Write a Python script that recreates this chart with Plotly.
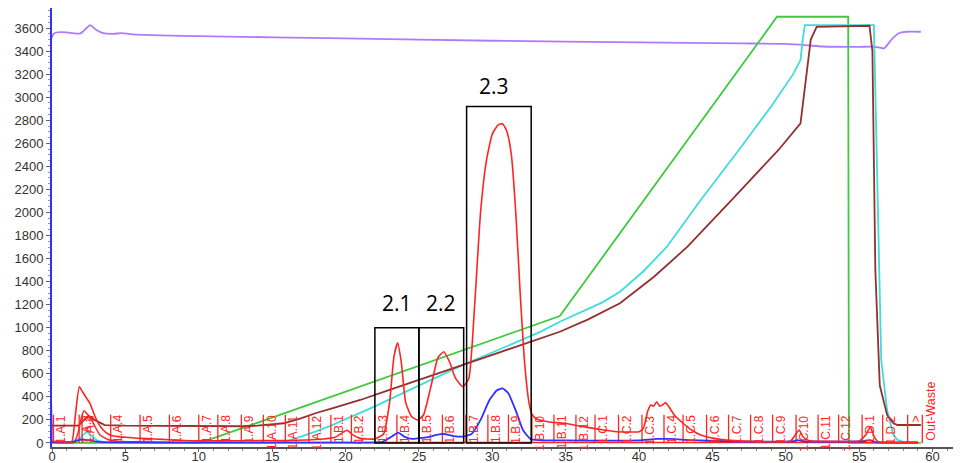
import plotly.graph_objects as go

# ---------------- data ----------------
uv_red_x = [0, 0.5, 1.0, 1.35, 1.6, 1.86, 2.1, 2.4, 2.6, 2.9, 3.16, 3.5, 3.95, 4.5, 5, 6, 7, 8, 9, 10, 12, 14, 16, 18,
            19.3, 19.8, 20.1, 20.5, 21, 22, 22.6, 23.0, 23.3, 23.55, 23.8, 24.1, 24.5, 24.9, 25.3, 25.8, 26.3, 26.7,
            27.1, 27.5, 28.0, 28.4, 28.8, 29.2, 29.6, 30.0, 30.4, 30.7, 31.0, 31.3, 31.6, 31.9, 32.2, 32.5, 32.7,
            33.0, 33.5, 34.0, 34.9, 36, 37.6, 38.3, 40.0, 40.3, 40.6, 40.8, 41.0, 41.2, 41.4, 41.6, 41.8, 42.0, 42.4,
            43.0, 43.6, 44.2, 45.1, 46, 48.3, 50.3, 50.7, 50.9, 51.2, 51.6, 53, 55, 55.5, 55.75, 56.0, 56.3, 57, 59]
uv_red_y = [15, 12, 10, 12, 250, 488, 440, 380, 340, 240, 170, 110, 69, 55, 50, 40, 35, 28, 22, 18, 18, 20, 22, 30,
            50, 90, 110, 70, 40, 35, 80, 350, 750, 870, 700, 350, 230, 200, 240, 480, 740, 792,
            700, 560, 488, 560, 1200, 2000, 2450, 2680, 2760, 2770, 2700, 2500, 2000, 1300, 700, 350, 250,
            210, 190, 180, 171, 145, 113, 100, 98, 130, 280, 330, 320, 358, 320, 330, 350, 320, 243,
            171, 110, 69, 40, 25, 12, 15, 80, 113, 50, 20, 15, 18, 80, 141, 60, 10, 5, 5]

uv2_red_x = [0, 1.5, 1.8, 2.0, 2.18, 2.4, 2.6, 2.9, 3.27, 3.8, 4.5, 6, 10, 20, 40, 59]
uv2_red_y = [5, 5, 100, 220, 280, 250, 228, 150, 69, 30, 15, 10, 5, 5, 5, 5]

uv_blue_x = [0, 1.5, 2.1, 2.6, 3.2, 5, 10, 15, 20, 21, 22.5, 23.2, 23.6, 24.0, 24.5, 25.0, 25.6, 26.2, 26.7, 27.3,
             28.0, 28.6, 29.2, 29.8, 30.3, 30.7, 31.1, 31.6, 32.1, 32.6, 33.2, 35, 38, 40, 41.2, 42.2, 43.5, 46,
             50.5, 50.8, 51.2, 55.3, 55.7, 56.1, 57, 59]
uv_blue_y = [10, 12, 32, 20, 10, 5, 3, 3, 3, 2, 10, 60, 89, 55, 35, 41, 50, 70, 78, 62,
             55, 80, 200, 370, 455, 474, 430, 280, 110, 35, 25, 22, 20, 22, 35, 35, 25, 15,
             15, 25, 15, 15, 25, 8, 3, 3]

cond_x = [0, 1.4, 1.9, 2.36, 2.7, 3.1, 3.6, 10, 15, 16, 17, 18, 19, 20, 21, 22, 23, 24, 25, 26, 27, 28, 30, 31.9,
          33.3, 34.6, 36, 37.5, 38.7, 40.3, 41.9, 44.2, 46.8, 49, 50.5, 51.0, 51.15, 51.3, 56.0, 56.3, 56.5, 56.9,
          57.3, 57.6, 58, 59]
cond_y = [5, 10, 40, 98, 60, 20, 5, 2, 3, 15, 55, 100, 150, 205, 258, 318, 378, 438, 498, 558, 618, 677, 785, 893,
          966, 1052, 1130, 1220, 1312, 1490, 1703, 2108, 2542, 2920, 3200, 3322, 3500, 3626, 3626, 2000, 720, 286,
          80, 26, 10, 8]

conc_x = [0, 1.8, 2.1, 2.48, 2.9, 3.6, 5, 10, 13, 14, 15, 15.8, 17, 18, 19.2, 21, 23, 25, 27, 28, 30, 31.9, 33.3,
          34.6, 36.5, 38.7, 41, 43.3, 46.3, 49.5, 51.0, 51.4, 51.7, 52.1, 55.7, 55.9, 56.1, 56.4, 56.9, 57.3, 57.6,
          59.2]
conc_y = [150, 150, 190, 234, 200, 155, 150, 145, 145, 150, 160, 171, 215, 260, 305, 373, 460, 545, 630, 677, 765,
          848, 908, 965, 1070, 1212, 1440, 1703, 2108, 2542, 2773, 3200, 3500, 3611, 3620, 3400, 1500, 500, 243,
          175, 156, 156]

grad_x = [0, 10.1, 34.6, 49.4, 54.25, 54.3, 59.2]
grad_y = [0, 0, 1101, 3698, 3698, 0, 0]

press_x = [0.05, 0.12, 1.9, 2.2, 2.6, 3.0, 3.5, 4.2, 4.75, 5.5, 10, 20, 30, 40, 47, 50, 51.5, 52.5, 55, 56.0, 56.4,
           56.7, 57.2, 57.7, 58.2, 59.2]
press_y = [0, 3550, 3552, 3580, 3626, 3585, 3555, 3550, 3556, 3545, 3530, 3510, 3490, 3475, 3467, 3462, 3450, 3440,
           3437, 3438, 3430, 3424, 3500, 3555, 3568, 3568]

frac_pos = [0.1, 1.85, 2.05, 4.0, 6.0, 8.0, 10.0, 11.3, 12.9, 14.4, 15.9, 17.5,
            19.0, 20.4, 22.0, 23.5, 25.0, 26.6, 28.2, 29.7, 31.1, 32.7, 34.2, 35.7,
            37.0, 38.6, 40.2, 41.7, 43.0, 44.6, 46.1, 47.6, 49.1, 50.7, 52.2, 53.6,
            55.2, 56.6, 58.3, 59.3]
frac_labels = ([f"1.A.{i}" for i in range(1, 13)] + [f"1.B.{i}" for i in range(1, 13)] +
               [f"1.C.{i}" for i in range(1, 13)] + ["1.D.1", "1.D.2", ">", "Out-Waste"])

box_names = ["2.1", "2.2", "2.3"]
box_x0 = [22.0, 25.0, 28.25]
box_x1 = [25.0, 28.05, 32.65]
box_top = [1000, 1000, 2920]
box_label_x = [23.5, 26.5, 30.1]
box_label_y = [1214, 1214, 3097]

x_ticks = [0, 5, 10, 15, 20, 25, 30, 35, 40, 45, 50, 55, 60]
y_ticks = list(range(0, 3601, 200))

# ---------------- figure ----------------
RED = "#ff2424"
fig = go.Figure()

fig.add_trace(go.Scatter(x=press_x, y=press_y, mode="lines", line=dict(color="#b07aff", width=1.8, shape="spline", smoothing=0.6)))
fig.add_trace(go.Scatter(x=grad_x, y=grad_y, mode="lines", line=dict(color="#3ec93e", width=1.8)))
fig.add_trace(go.Scatter(x=cond_x, y=cond_y, mode="lines", line=dict(color="#3fdcdc", width=1.8)))
fig.add_trace(go.Scatter(x=conc_x, y=conc_y, mode="lines", line=dict(color="#933030", width=1.8)))

# fraction marks
fx, fy = [], []
for p in frac_pos:
    fx += [p, p, None]
    fy += [0, 245, None]
fig.add_trace(go.Scatter(x=fx, y=fy, mode="lines", line=dict(color=RED, width=1.3)))

fig.add_trace(go.Scatter(x=uv2_red_x, y=uv2_red_y, mode="lines", line=dict(color=RED, width=1.5, shape="spline", smoothing=0.5)))
fig.add_trace(go.Scatter(x=uv_blue_x, y=uv_blue_y, mode="lines", line=dict(color="#3030ff", width=1.8, shape="spline", smoothing=0.5)))
fig.add_trace(go.Scatter(x=uv_red_x, y=uv_red_y, mode="lines", line=dict(color=RED, width=1.6, shape="spline", smoothing=0.5)))

for lab, p in zip(frac_labels, frac_pos):
    if lab == "Out-Waste":
        fig.add_annotation(x=p, y=0, xref="x", yref="y", text=lab, showarrow=False, textangle=-90,
                           xanchor="left", yanchor="bottom", font=dict(family="Liberation Sans, Arial", size=12.5, color=RED))
    else:
        fig.add_annotation(x=p, y=258, xref="x", yref="y", text=lab, showarrow=False, textangle=-90,
                           xanchor="left", yanchor="top", xshift=-1, font=dict(family="Liberation Sans, Arial", size=12, color=RED))

for name, a, b, t, lx, ly in zip(box_names, box_x0, box_x1, box_top, box_label_x, box_label_y):
    fig.add_shape(type="rect", x0=a, x1=b, y0=0, y1=t, xref="x", yref="y", line=dict(color="black", width=1.5))
    fig.add_annotation(x=lx, y=ly, xref="x", yref="y", text=name, showarrow=False,
                       font=dict(family="Open Sans", size=21, color="black"))

# the page body adds an 8 px offset, so the figure is sized and placed to compensate
fig.update_layout(
    width=953, height=455,
    margin=dict(l=44, r=2, t=0, b=16),
    paper_bgcolor="white", plot_bgcolor="white",
    showlegend=False,
    font=dict(family="Liberation Sans, Arial", color="#333333"),
)
fig.update_xaxes(range=[0, 61.8], tickvals=x_ticks, ticks="outside", ticklen=3, tickcolor="#666",
                 showline=True, linecolor="#555555", linewidth=1.5, showgrid=False, zeroline=False,
                 automargin=False, ticklabelstandoff=-6,
                 tickfont=dict(size=13), minor=dict(dtick=1, ticks="outside", ticklen=2, tickcolor="#888"))
fig.update_yaxes(range=[-35, 3774], tickvals=y_ticks, ticks="outside", ticklen=4, tickcolor="#666",
                 showline=True, linecolor="#3030ff", linewidth=2, showgrid=False, zeroline=False,
                 automargin=False,
                 tickfont=dict(size=13), minor=dict(dtick=50, ticks="outside", ticklen=2, tickcolor="#999"))

fig.write_html("out.html")
